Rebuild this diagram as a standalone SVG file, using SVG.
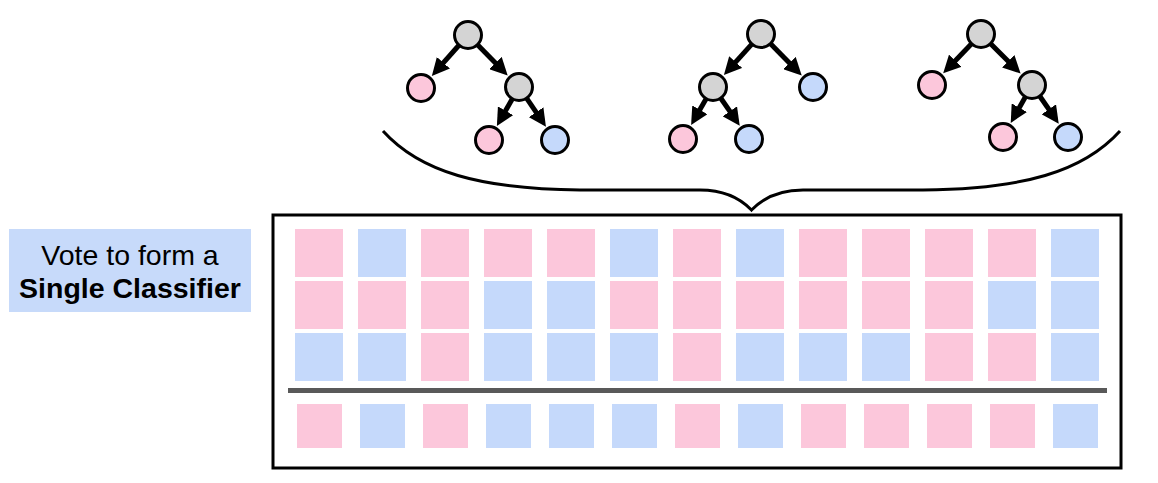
<svg xmlns="http://www.w3.org/2000/svg" width="1158" height="483" viewBox="0 0 1158 483">
  <style>
    .p { fill: #fcc7db; }
    .b { fill: #c5d9fb; }
    .node { stroke: #000; stroke-width: 3; }
    .gray { fill: #d4d4d4; }
    .edge { stroke: #000; stroke-width: 5; fill: none; marker-end: url(#ah); }
    .lbl { font-family: "Liberation Sans", Arial, sans-serif; font-size: 28.5px; fill: #000; text-anchor: middle; }
  </style>
  <defs>
    <marker id="ah" viewBox="0 0 10 10" refX="2" refY="5" markerWidth="3.5" markerHeight="3.5" orient="auto" markerUnits="strokeWidth">
      <path d="M0,0 L10,5 L0,10 z" fill="#000"/>
    </marker>
  </defs>
  <rect width="1158" height="483" fill="#fff"/>

  <g id="connectors">
    <line class="edge" x1="458.7" y1="45.5" x2="441.1" y2="65.4"/>
    <line class="edge" x1="477.8" y1="45.0" x2="497.9" y2="65.5"/>
    <line class="edge" x1="512.1" y1="99.2" x2="503.8" y2="113.8"/>
    <line class="edge" x1="526.9" y1="98.6" x2="538.1" y2="115.1"/>
    <line class="edge" x1="751.6" y1="44.4" x2="733.3" y2="64.6"/>
    <line class="edge" x1="770.8" y1="44.0" x2="791.9" y2="65.5"/>
    <line class="edge" x1="706.0" y1="99.1" x2="698.1" y2="112.8"/>
    <line class="edge" x1="721.0" y1="98.5" x2="731.8" y2="114.2"/>
    <line class="edge" x1="971.3" y1="44.1" x2="952.9" y2="63.2"/>
    <line class="edge" x1="990.9" y1="43.9" x2="1010.7" y2="63.7"/>
    <line class="edge" x1="1025.2" y1="97.2" x2="1017.6" y2="110.7"/>
    <line class="edge" x1="1040.0" y1="96.5" x2="1050.8" y2="112.2"/>
  </g>

  <g id="tree1">
    <circle id="t1-root" class="node gray" cx="468" cy="35" r="13.5"/>
    <circle id="t1-left" class="node p" cx="421" cy="88" r="13.5"/>
    <circle id="t1-inner" class="node gray" cx="519" cy="87" r="13.5"/>
    <circle id="t1-ll" class="node p" cx="489" cy="140" r="13.5"/>
    <circle id="t1-lr" class="node b" cx="555" cy="140" r="13.5"/>
  </g>
  <g id="tree2">
    <circle id="t2-root" class="node gray" cx="761" cy="34" r="13.5"/>
    <circle id="t2-inner" class="node gray" cx="713" cy="87" r="13.5"/>
    <circle id="t2-right" class="node b" cx="813" cy="87" r="13.5"/>
    <circle id="t2-ll" class="node p" cx="683" cy="139" r="13.5"/>
    <circle id="t2-lr" class="node b" cx="749" cy="139" r="13.5"/>
  </g>
  <g id="tree3">
    <circle id="t3-root" class="node gray" cx="981" cy="34" r="13.5"/>
    <circle id="t3-left" class="node p" cx="932" cy="85" r="13.5"/>
    <circle id="t3-inner" class="node gray" cx="1032" cy="85" r="13.5"/>
    <circle id="t3-ll" class="node p" cx="1003" cy="137" r="13.5"/>
    <circle id="t3-lr" class="node b" cx="1068" cy="137" r="13.5"/>
  </g>

  <g id="brace">
    <path d="M383,131 C420,172 480,189 580,190 L700,190 C725,190 740,198 751.5,210 C763,198 778,190 803,190 L923,190 C1023,189 1083,172 1120,131" fill="none" stroke="#000" stroke-width="3"/>
  </g>

  <g id="label">
    <rect x="9" y="229" width="242" height="83" fill="#c7dafa"/>
    <text class="lbl" x="130" y="265">Vote to form a</text>
    <text class="lbl" x="130" y="298" font-weight="bold">Single Classifier</text>
  </g>

  <g id="votes">
    <rect x="273" y="215" width="848" height="253" fill="#fff" stroke="#000" stroke-width="3"/>
    <g id="row1">
      <rect class="p" x="295" y="229" width="48" height="48"/>
      <rect class="b" x="358" y="229" width="48" height="48"/>
      <rect class="p" x="421" y="229" width="48" height="48"/>
      <rect class="p" x="484" y="229" width="48" height="48"/>
      <rect class="p" x="547" y="229" width="48" height="48"/>
      <rect class="b" x="610" y="229" width="48" height="48"/>
      <rect class="p" x="673" y="229" width="48" height="48"/>
      <rect class="b" x="736" y="229" width="48" height="48"/>
      <rect class="p" x="799" y="229" width="48" height="48"/>
      <rect class="p" x="862" y="229" width="48" height="48"/>
      <rect class="p" x="925" y="229" width="48" height="48"/>
      <rect class="p" x="988" y="229" width="48" height="48"/>
      <rect class="b" x="1051" y="229" width="48" height="48"/>
    </g>
    <g id="row2">
      <rect class="p" x="295" y="281" width="48" height="48"/>
      <rect class="p" x="358" y="281" width="48" height="48"/>
      <rect class="p" x="421" y="281" width="48" height="48"/>
      <rect class="b" x="484" y="281" width="48" height="48"/>
      <rect class="b" x="547" y="281" width="48" height="48"/>
      <rect class="p" x="610" y="281" width="48" height="48"/>
      <rect class="p" x="673" y="281" width="48" height="48"/>
      <rect class="p" x="736" y="281" width="48" height="48"/>
      <rect class="p" x="799" y="281" width="48" height="48"/>
      <rect class="p" x="862" y="281" width="48" height="48"/>
      <rect class="p" x="925" y="281" width="48" height="48"/>
      <rect class="b" x="988" y="281" width="48" height="48"/>
      <rect class="b" x="1051" y="281" width="48" height="48"/>
    </g>
    <g id="row3">
      <rect class="b" x="295" y="333" width="48" height="48"/>
      <rect class="b" x="358" y="333" width="48" height="48"/>
      <rect class="p" x="421" y="333" width="48" height="48"/>
      <rect class="b" x="484" y="333" width="48" height="48"/>
      <rect class="b" x="547" y="333" width="48" height="48"/>
      <rect class="b" x="610" y="333" width="48" height="48"/>
      <rect class="p" x="673" y="333" width="48" height="48"/>
      <rect class="b" x="736" y="333" width="48" height="48"/>
      <rect class="b" x="799" y="333" width="48" height="48"/>
      <rect class="b" x="862" y="333" width="48" height="48"/>
      <rect class="p" x="925" y="333" width="48" height="48"/>
      <rect class="p" x="988" y="333" width="48" height="48"/>
      <rect class="b" x="1051" y="333" width="48" height="48"/>
    </g>
    <line x1="288" y1="390.5" x2="1107" y2="390.5" stroke="#595959" stroke-width="5"/>
    <g id="result">
      <rect class="p" x="297" y="404" width="45" height="44"/>
      <rect class="b" x="360" y="404" width="45" height="44"/>
      <rect class="p" x="423" y="404" width="45" height="44"/>
      <rect class="b" x="486" y="404" width="45" height="44"/>
      <rect class="b" x="549" y="404" width="45" height="44"/>
      <rect class="b" x="612" y="404" width="45" height="44"/>
      <rect class="p" x="675" y="404" width="45" height="44"/>
      <rect class="b" x="738" y="404" width="45" height="44"/>
      <rect class="p" x="801" y="404" width="45" height="44"/>
      <rect class="p" x="864" y="404" width="45" height="44"/>
      <rect class="p" x="927" y="404" width="45" height="44"/>
      <rect class="p" x="990" y="404" width="45" height="44"/>
      <rect class="b" x="1053" y="404" width="45" height="44"/>
    </g>
  </g>
</svg>
